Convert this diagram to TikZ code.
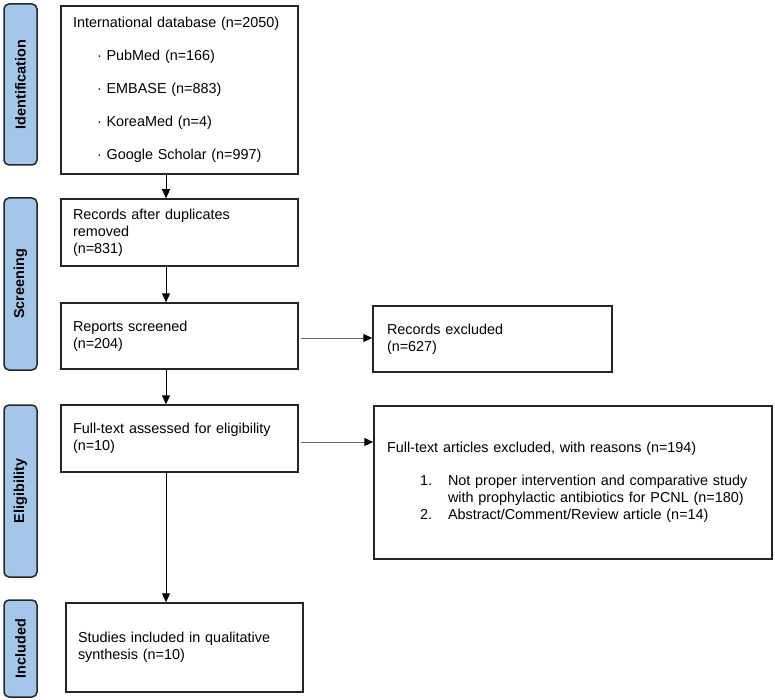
\documentclass[tikz,border=0pt]{standalone}
\usepackage{fontspec}
\setmainfont{Liberation Sans}
\usetikzlibrary{arrows.meta}
\definecolor{phase}{RGB}{164,198,232}
\begin{document}
\begin{tikzpicture}[x=1pt,y=-1pt,
  box/.style={draw=black!85, line width=1.5pt, fill=white, align=left, anchor=center, inner ysep=0pt, font=\fontsize{14.4}{17}\selectfont},
  phasebox/.style={draw=black!85, line width=1.5pt, fill=phase, rounded corners=5pt, rotate=90, font=\bfseries\fontsize{14.4}{17}\selectfont, inner sep=0pt},
  arr/.style={line width=1pt, -{Triangle[length=9pt,width=8pt]}},
  harr/.style={draw=black!60, line width=1pt, shorten <=2pt, -{Triangle[length=9pt,width=8pt,color=black]}}
]
\useasboundingbox (0,0) rectangle (775,700);

% phase labels
\node[phasebox, minimum width=161pt, minimum height=33pt] (pid) at (20.5,84.5) {Identification};
\node[phasebox, minimum width=172pt, minimum height=33pt] (psc) at (20.5,284) {Screening};
\node[phasebox, minimum width=172pt, minimum height=33pt] (pel) at (20.5,491) {Eligibility};
\node[phasebox, minimum width=97pt, minimum height=33pt] (pin) at (20.5,648.5) {Included};

% main boxes
\node[box, inner xsep=12pt, text width=213pt, minimum height=168pt] (b1) at (179.5,90)
 {International database (n=2050)\\[16pt]
  \hspace*{24pt}· PubMed (n=166)\\[16pt]
  \hspace*{24pt}· EMBASE (n=883)\\[16pt]
  \hspace*{24pt}· KoreaMed (n=4)\\[16pt]
  \hspace*{24pt}· Google Scholar (n=997)};
\node[box, inner xsep=12pt, text width=213pt, minimum height=67pt] (b2) at (179.5,232.5)
 {Records after duplicates\\removed\\(n=831)};
\node[box, inner xsep=12pt, text width=213pt, minimum height=66pt] (b3) at (179.5,336)
 {Reports screened\\(n=204)};
\node[box, inner xsep=12pt, text width=213pt, minimum height=67pt] (b4) at (179.5,438.5)
 {Full-text assessed for eligibility\\(n=10)};
\node[box, inner xsep=12pt, text width=213pt, minimum height=89pt] (b5) at (184.5,647.5)
 {Studies included in qualitative\\synthesis (n=10)};

% exclusion boxes
\node[box, inner xsep=14pt, text width=211pt, minimum height=66pt] (rex) at (492.5,339)
 {Records excluded\\(n=627)};
\node[box, inner xsep=13pt, text width=372pt, minimum height=153pt] (fex) at (573,482.5)
 {Full-text articles excluded, with reasons (n=194)\\[16pt]
  \hspace*{33pt}\makebox[28pt][l]{1.}Not proper intervention and comparative study\\
  \hspace*{61pt}with prophylactic antibiotics for PCNL (n=180)\\
  \hspace*{33pt}\makebox[28pt][l]{2.}Abstract/Comment/Review article (n=14)};

% connectors
\coordinate (ax) at (166,0);
\draw[arr] (b1.south -| ax) -- (b2.north -| ax);
\draw[arr] (b2.south -| ax) -- (b3.north -| ax);
\draw[arr] (b3.south -| ax) -- (b4.north -| ax);
\draw[arr] (b4.south -| ax) -- (b5.north -| ax);
\draw[harr] ([yshift=-2pt]b3.east) -- ([yshift=-2pt]b3.east -| rex.west);
\draw[harr] ([yshift=-3.5pt]b4.east) -- ([yshift=-3.5pt]b4.east -| fex.west);
\end{tikzpicture}
\end{document}
